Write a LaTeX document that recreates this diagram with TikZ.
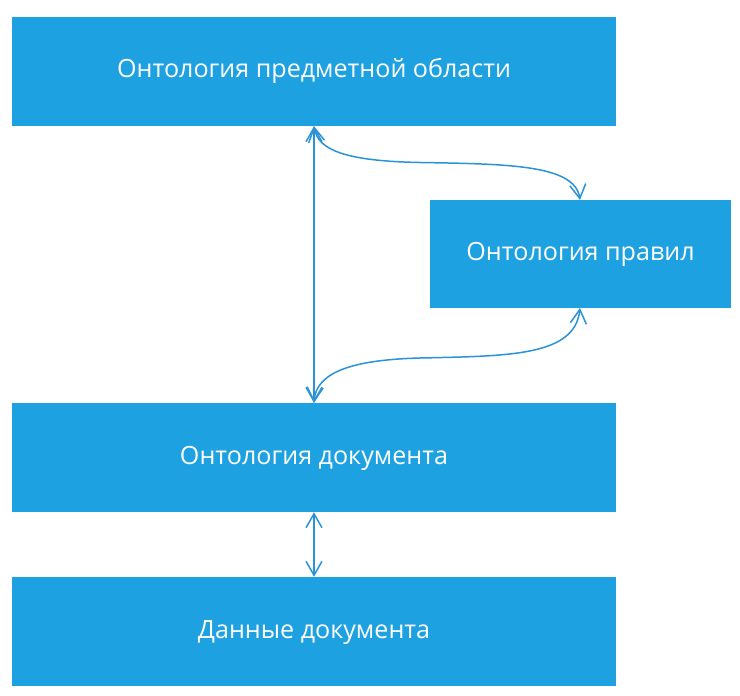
\documentclass[tikz,border=0pt]{standalone}
\usepackage{fontspec}
\setmainfont{Open Sans}
\usetikzlibrary{arrows.meta}
\definecolor{boxblue}{HTML}{1DA1E1}
\definecolor{linkblue}{HTML}{2A92D6}
\tikzset{
  blk/.style={fill=boxblue, draw=none, inner sep=0pt, text=white,
    text height=18bp, text depth=5bp,
    font=\fontsize{25.2}{30}\selectfont},
  link/.style={draw=linkblue, line width=1.5bp,
    {Straight Barb[length=14bp,width=16bp,line width=1.5bp]}-{Straight Barb[length=14bp,width=16bp,line width=1.5bp]}}
}
\begin{document}
\begin{tikzpicture}[x=1bp,y=-1bp]
\useasboundingbox (0,0) rectangle (740,696);
\node[blk, minimum width=604bp, minimum height=109bp] (dom) at (314,71.5) {Онтология предметной области};
\node[blk, minimum width=301bp, minimum height=108bp] (rul) at (580.5,254) {Онтология правил};
\node[blk, minimum width=604bp, minimum height=109bp] (doc) at (314,457.5) {Онтология документа};
\node[blk, minimum width=604bp, minimum height=109bp] (dat) at (314,631.5) {Данные документа};
\coordinate (dB) at (dom.south);
\coordinate (rT) at (580,200);
\coordinate (rB) at (580,308);
\coordinate (cT) at (doc.north);
\draw[link] (dB) -- (cT);
\draw[link] (dB) .. controls (318,150) and (345,161) .. (420,162.5)
  .. controls (510,164) and (575,165) .. (rT);
\draw[link] (cT) .. controls (316,375) and (345,360) .. (420,358)
  .. controls (510,356) and (575,356) .. (rB);
\draw[link] (doc.south) -- (dat.north);
\end{tikzpicture}
\end{document}
